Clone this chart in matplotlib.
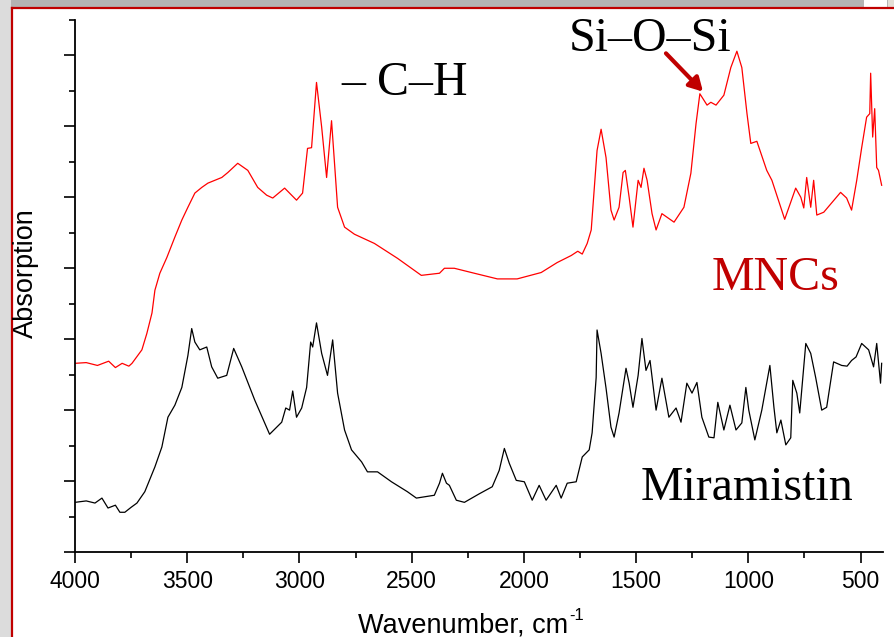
import numpy
import matplotlib
matplotlib.use('Agg')
import matplotlib.pyplot as plt
from matplotlib.patches import Rectangle
from matplotlib.lines import Line2D

# -------------------------------------------------------------------
#  Spectra (wavenumber in cm-1, absorption in tick units)

mncWave = [4000, 3950, 3900, 3850, 3820, 3790, 3760, 3746, 3702, 3680,
           3657, 3644, 3622, 3591, 3555, 3524, 3497, 3466, 3435, 3408,
           3346, 3319, 3275, 3230, 3186, 3146, 3119, 3066, 3013, 2986,
           2964, 2946, 2924, 2901, 2879, 2857, 2830, 2799, 2755, 2666,
           2563, 2457, 2376, 2354, 2310, 2221, 2118, 2030, 1923, 1852,
           1789, 1760, 1740, 1718, 1700, 1687, 1674, 1656, 1634, 1612,
           1598, 1576, 1558, 1548, 1531, 1514, 1491, 1478, 1465, 1451,
           1429, 1411, 1385, 1331, 1287, 1256, 1233, 1216, 1184, 1167,
           1144, 1109, 1078, 1051, 1029, 1006, 989, 962, 918, 895,
           838, 789, 766, 753, 740, 722, 709, 695, 664, 589,
           562, 540, 517, 495, 473, 459, 455, 446, 437, 428,
           420, 406]
mncAbs = [2.66, 2.67, 2.63, 2.69, 2.60, 2.66, 2.62, 2.66, 2.85, 3.08,
          3.37, 3.69, 3.93, 4.15, 4.44, 4.68, 4.86, 5.06, 5.14, 5.20,
          5.28, 5.35, 5.48, 5.38, 5.14, 5.03, 4.99, 5.13, 4.96, 5.06,
          5.69, 5.70, 6.62, 5.99, 5.28, 6.08, 4.86, 4.58, 4.48, 4.35,
          4.14, 3.90, 3.93, 4.00, 4.00, 3.93, 3.85, 3.85, 3.94, 4.08,
          4.18, 4.24, 4.20, 4.35, 4.54, 5.10, 5.66, 5.96, 5.56, 4.82,
          4.68, 4.86, 5.35, 5.38, 5.00, 4.58, 5.24, 5.14, 5.41, 5.24,
          4.77, 4.54, 4.77, 4.65, 4.86, 5.34, 6.04, 6.46, 6.30, 6.34,
          6.30, 6.44, 6.83, 7.06, 6.83, 6.18, 5.76, 5.79, 5.38, 5.24,
          4.69, 5.13, 5.00, 4.85, 5.28, 4.86, 5.24, 4.75, 4.79, 5.07,
          4.99, 4.82, 5.24, 5.70, 6.13, 6.18, 6.75, 5.85, 6.25, 5.42,
          5.38, 5.17]

miraWave = [4000, 3950, 3911, 3880, 3853, 3820, 3800, 3778, 3750, 3724,
            3689, 3644, 3613, 3586, 3555, 3524, 3497, 3480, 3466, 3444,
            3413, 3391, 3364, 3324, 3293, 3257, 3199, 3133, 3079, 3061,
            3044, 3030, 3013, 2990, 2968, 2950, 2941, 2924, 2901, 2875,
            2852, 2830, 2799, 2768, 2723, 2697, 2652, 2590, 2519, 2479,
            2399, 2376, 2363, 2345, 2332, 2301, 2265, 2199, 2141, 2110,
            2087, 2065, 2034, 1998, 1963, 1932, 1901, 1856, 1834, 1807,
            1767, 1740, 1709, 1696, 1678, 1674, 1656, 1634, 1612, 1598,
            1576, 1545, 1531, 1514, 1491, 1474, 1456, 1438, 1411, 1385,
            1354, 1322, 1300, 1274, 1251, 1229, 1207, 1176, 1153, 1136,
            1109, 1082, 1055, 1029, 1011, 998, 971, 940, 904, 886,
            873, 855, 833, 811, 802, 784, 771, 744, 722, 700,
            673, 651, 620, 584, 560, 540, 520, 495, 464, 442,
            428, 411, 406]
miraAbs = [0.70, 0.72, 0.69, 0.76, 0.62, 0.66, 0.56, 0.56, 0.63, 0.69,
           0.85, 1.20, 1.48, 1.90, 2.07, 2.32, 2.77, 3.15, 2.96, 2.85,
           2.89, 2.61, 2.45, 2.49, 2.87, 2.61, 2.14, 1.66, 1.83, 2.03,
           2.00, 2.27, 1.90, 2.03, 2.32, 2.96, 2.89, 3.23, 2.80, 2.49,
           2.99, 2.24, 1.72, 1.44, 1.27, 1.13, 1.13, 0.99, 0.85, 0.76,
           0.80, 0.97, 1.11, 0.97, 0.94, 0.73, 0.70, 0.82, 0.92, 1.15,
           1.46, 1.25, 1.01, 0.99, 0.73, 0.94, 0.73, 0.94, 0.76, 0.97,
           0.99, 1.34, 1.44, 1.68, 2.46, 3.13, 2.80, 2.31, 1.76, 1.62,
           1.96, 2.59, 2.38, 2.04, 2.49, 3.01, 2.56, 2.70, 2.00, 2.45,
           1.90, 2.03, 1.83, 2.38, 2.24, 2.39, 1.90, 1.62, 1.61, 2.11,
           1.72, 2.07, 1.72, 1.82, 2.32, 2.00, 1.58, 2.00, 2.63, 2.04,
           1.68, 1.86, 1.51, 1.61, 2.42, 2.24, 1.96, 2.94, 2.80, 2.46,
           2.00, 2.04, 2.68, 2.63, 2.62, 2.70, 2.75, 2.94, 2.85, 2.61,
           2.94, 2.38, 2.66]

xTicks = [4000, 3500, 3000, 2500, 2000, 1500, 1000, 500]
darkRed = '#C00000'

# -------------------------------------------------------------------
#  Figure with the slide frame around it

fig = plt.figure(figsize=(8.95, 6.37), dpi=100)
fig.patch.set_facecolor('white')

W, H = 895.0, 637.0
fig.patches.append(Rectangle((0, 1 - 7/H), 1, 7/H, transform=fig.transFigure,
                             facecolor='#B4B4B4', edgecolor='none', zorder=0))
fig.patches.append(Rectangle((864/W, 1 - 7/H), 23/W, 7/H, transform=fig.transFigure,
                             facecolor='white', edgecolor='none', zorder=1))
fig.patches.append(Rectangle((888/W, 1 - 7/H), 7/W, 7/H, transform=fig.transFigure,
                             facecolor='#E4DFD6', edgecolor='none', zorder=1))
fig.patches.append(Rectangle((0, 0), 11/W, 1, transform=fig.transFigure,
                             facecolor='#DCDCDC', edgecolor='none', zorder=0))
fig.lines.append(Line2D([12/W, 1], [1 - 7.5/H, 1 - 7.5/H], transform=fig.transFigure,
                        color=darkRed, lw=1.6))
fig.lines.append(Line2D([12/W, 12/W], [0, 1 - 7.5/H], transform=fig.transFigure,
                        color=darkRed, lw=1.6))

ax = fig.add_axes([75/W, 85/H, 808/W, 532/H])
ax.plot(mncWave, mncAbs, color='#FF0000', lw=0.9)
ax.plot(miraWave, miraAbs, color='black', lw=0.9)

ax.set_xlim(4000, 400)
ax.set_ylim(0, 7.5)
ax.set_xticks(xTicks)
ax.set_xticks(numpy.arange(3750, 400, -500), minor=True)
ax.set_yticks(numpy.arange(0, 7.6, 1))
ax.set_yticks(numpy.arange(0.5, 7.6, 1), minor=True)
ax.set_yticklabels([])
ax.spines['top'].set_visible(False)
ax.spines['right'].set_visible(False)
for side in ['left', 'bottom']:
    ax.spines[side].set_linewidth(1.3)
ax.tick_params(which='major', direction='out', length=8, width=1.2)
ax.tick_params(which='minor', direction='out', length=4.5, width=1.2)
ax.tick_params(axis='x', pad=5)
for lab in ax.get_xticklabels():
    lab.set_fontfamily('Liberation Sans')
    lab.set_fontsize(16.5)

fig.text(26/W, 1 - 273/H, 'Absorption', rotation=90, ha='center', va='center',
         family='Liberation Sans', fontsize=19.5)
xLab = fig.text(358/W, 1 - 632/H, 'Wavenumber, cm', ha='left', va='baseline',
                family='Liberation Sans', fontsize=19.5)
renderer = fig.canvas.get_renderer()
labBox = xLab.get_window_extent(renderer)
fig.text(labBox.x1/W + 1/W, 1 - 620/H, '-1', ha='left', va='baseline',
         family='Liberation Sans', fontsize=12)

serif = 'Liberation Serif'
ax.text(2812, 6.44, '\u2013 C\u2013H', ha='left', va='baseline', family=serif, fontsize=34.5)
ax.text(1798, 7.07, 'Si\u2013O\u2013Si', ha='left', va='baseline', family=serif,
        fontsize=34.5, clip_on=False)
ax.text(1162, 3.69, 'MNCs', ha='left', va='baseline', family=serif, fontsize=34.5,
        color=darkRed)
ax.text(1478, 0.73, 'Miramistin', ha='left', va='baseline', family=serif, fontsize=34.5)
ax.annotate('', xy=(1202, 6.49), xytext=(1367, 7.03),
            arrowprops=dict(arrowstyle='-|>,head_length=0.8,head_width=0.45',
                            color=darkRed, lw=3, shrinkA=0, shrinkB=0))

fig.savefig('out.png', dpi=100)
